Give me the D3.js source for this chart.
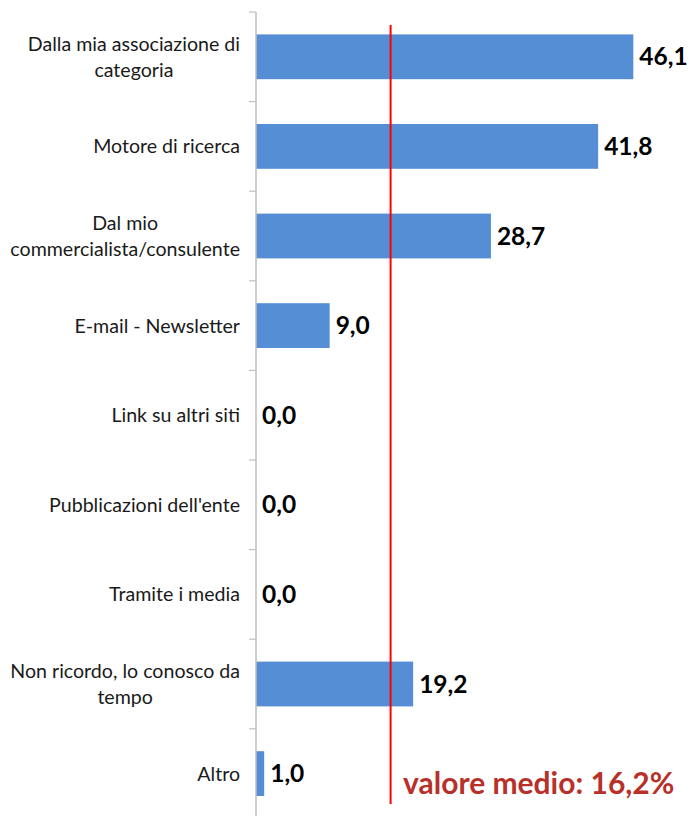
<!DOCTYPE html>
<html><head><meta charset="utf-8">
<script src="https://cdn.jsdelivr.net/npm/d3@7"></script>
<style>html,body{margin:0;padding:0;background:#fff;}svg{display:block;}</style>
</head><body>
<svg id="chart" width="693" height="816"></svg>
<script>
const categories = [
  "Dalla mia associazione di|categoria",
  "Motore di ricerca",
  "Dal mio|commercialista/consulente",
  "E-mail - Newsletter",
  "Link su altri siti",
  "Pubblicazioni dell'ente",
  "Tramite i media",
  "Non ricordo, lo conosco da|tempo",
  "Altro"
];
const values = [46.1, 41.8, 28.7, 9.0, 0.0, 0.0, 0.0, 19.2, 1.0];
const meanValue = 16.2;
const meanLabel = "valore medio: 16,2%";

(function () {
const svg = d3.select("#chart");
const mLeft = 256, mTop = 12;
const step = 89.6;
const x = d3.scaleLinear().domain([0, 50]).range([mLeft, mLeft + 50 * 8.185]);
const y = d3.scaleBand().domain(categories).range([mTop, mTop + step * categories.length])
  .paddingInner(0.5).paddingOuter(0.25);
const fmt = v => d3.format(".1f")(v).replace(".", ",");

// bars
svg.append("g").selectAll("rect").data(values).join("rect")
  .attr("x", x(0)).attr("y", (d, i) => y(categories[i]))
  .attr("width", d => x(d) - x(0)).attr("height", y.bandwidth())
  .attr("fill", "#558ED5");

// axis (category) with outward ticks at band boundaries
const ax = svg.append("g");
ax.append("line").attr("x1", mLeft).attr("x2", mLeft).attr("y1", mTop).attr("y2", 816)
  .attr("stroke", "#BEBEBE").attr("stroke-width", 1.5);
d3.range(categories.length + 1).forEach(i => {
  const yy = mTop + i * y.step();
  ax.append("line").attr("x1", mLeft - 7).attr("x2", mLeft).attr("y1", yy).attr("y2", yy)
    .attr("stroke", "#BEBEBE").attr("stroke-width", 1.2);
});

// category labels
const lineH = 26;
categories.forEach((c, i) => {
  const lines = c.split("|");
  const cy = y(c) + y.bandwidth() / 2;
  const t = svg.append("text").attr("font-family", "Lato, 'Open Sans', sans-serif")
    .attr("font-size", 19.6).attr("fill", "#1a1a1a").attr("text-anchor", "middle");
  const spans = lines.map((l, k) => t.append("tspan").text(l)
    .attr("y", cy + (k - (lines.length - 1) / 2) * lineH + 7));
  const w = d3.max(spans, s => s.node().getComputedTextLength());
  spans.forEach(s => s.attr("x", 240 - w / 2));
});

// mean line
svg.append("line").attr("x1", x(meanValue) + 2).attr("x2", x(meanValue) + 2)
  .attr("y1", 25).attr("y2", 804).attr("stroke", "#FF0000").attr("stroke-width", 2);

// value labels
svg.append("g").selectAll("text").data(values).join("text")
  .attr("x", d => x(d) + 6)
  .attr("y", (d, i) => y(categories[i]) + y.bandwidth() / 2 + 8.5)
  .attr("font-family", "Lato, 'Open Sans', sans-serif").attr("font-weight", "bold")
  .attr("font-size", 24.5).attr("fill", "#000").text(d => fmt(d));

// mean label
svg.append("text").attr("x", 403).attr("y", 794)
  .attr("font-family", "Lato, 'Open Sans', sans-serif").attr("font-weight", "bold")
  .attr("font-size", 30).attr("fill", "#B8302A").text(meanLabel);
})();
</script>
</body></html>
